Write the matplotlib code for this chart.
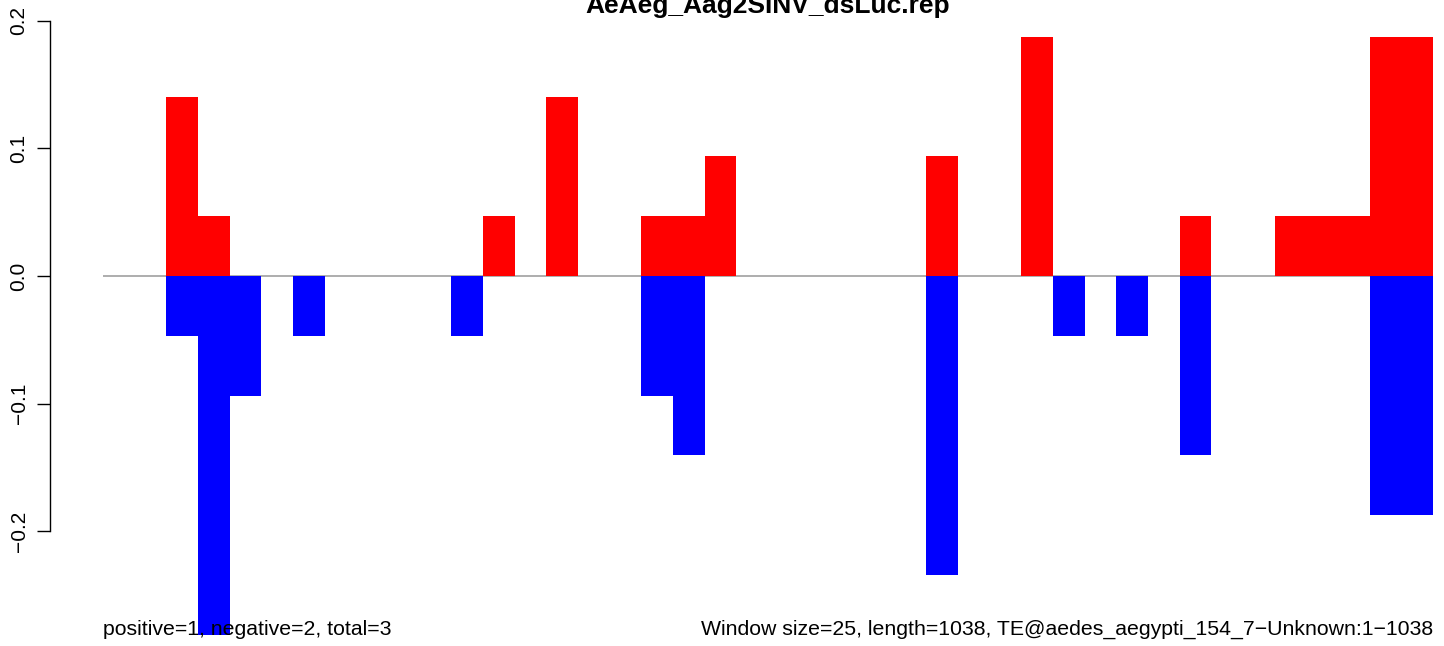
import numpy as np
import matplotlib
matplotlib.use('Agg')
import matplotlib.pyplot as plt

plt.rcParams['font.family'] = ['Liberation Sans', 'DejaVu Sans']

# 窗口统计（每个窗口的正/负链比例）
unit = 0.0468
n_win = 42
pos_counts = [0, 0, 3, 1, 0, 0, 0, 0, 0, 0, 0, 0, 1, 0, 3, 0, 0, 1, 1, 2, 0,
              0, 0, 0, 0, 0, 2, 0, 0, 4, 0, 0, 0, 0, 1, 0, 0, 1, 1, 1, 4, 4]
neg_counts = [0, 0, 1, 6, 2, 0, 1, 0, 0, 0, 0, 1, 0, 0, 0, 0, 0, 2, 3, 0, 0,
              0, 0, 0, 0, 0, 5, 0, 0, 0, 1, 0, 1, 0, 3, 0, 0, 0, 0, 0, 4, 4]
pos_vals = np.array(pos_counts) * unit
neg_vals = -np.array(neg_counts) * unit

title = 'AeAeg_Aag2SINV_dsLuc.rep'
left_note = 'positive=1, negative=2, total=3'
right_note = 'Window size=25, length=1038, TE@aedes_aegypti_154_7\u2212Unknown:1\u22121038'
yticks = [-0.2, -0.1, 0.0, 0.1, 0.2]
ytick_labels = ['\u22120.2', '\u22120.1', '0.0', '0.1', '0.2']

W, H = 1444, 646
fig = plt.figure(figsize=(W / 100, H / 100), dpi=100)

# 坐标区：x 像素 103..1433，y=0 在像素 276，每 0.1 约 127.7 像素
px_per_unit = 1277.0
y_top = 276 / px_per_unit
y_bot = -(H - 276) / px_per_unit
ax = fig.add_axes([103 / W, 0, (1433 - 103) / W, 1])
ax.set_xlim(0, n_win)
ax.set_ylim(y_bot, y_top)

x = np.arange(n_win)
ax.bar(x, pos_vals, width=1, align='edge', color='#FF0000', linewidth=0)
ax.bar(x, neg_vals, width=1, align='edge', color='#0000FF', linewidth=0)
ax.axhline(0, color='#a0a0a0', linewidth=1.2, zorder=0.5)

for s in ['top', 'right', 'bottom']:
    ax.spines[s].set_visible(False)
ax.spines['left'].set_position(('outward', 38.2))
ax.spines['left'].set_bounds(-0.2, 0.2)
ax.spines['left'].set_linewidth(1.0)
ax.set_xticks([])
ax.set_yticks(yticks)
ax.set_yticklabels(ytick_labels, rotation=90, va='center', fontsize=15)
ax.tick_params(axis='y', length=9.4, width=1.0, pad=6)

# 标题（参考图中上端被裁切）
fig.text(768 / W, 1 - 12.5 / H, title, ha='center', va='baseline',
         fontsize=19, fontweight='bold')
fig.text(103 / W, 1 - 635 / H, left_note, ha='left', va='baseline', fontsize=15.3)
fig.text(1433 / W, 1 - 635 / H, right_note, ha='right', va='baseline', fontsize=15.3)

fig.savefig('out.png', dpi=100)
